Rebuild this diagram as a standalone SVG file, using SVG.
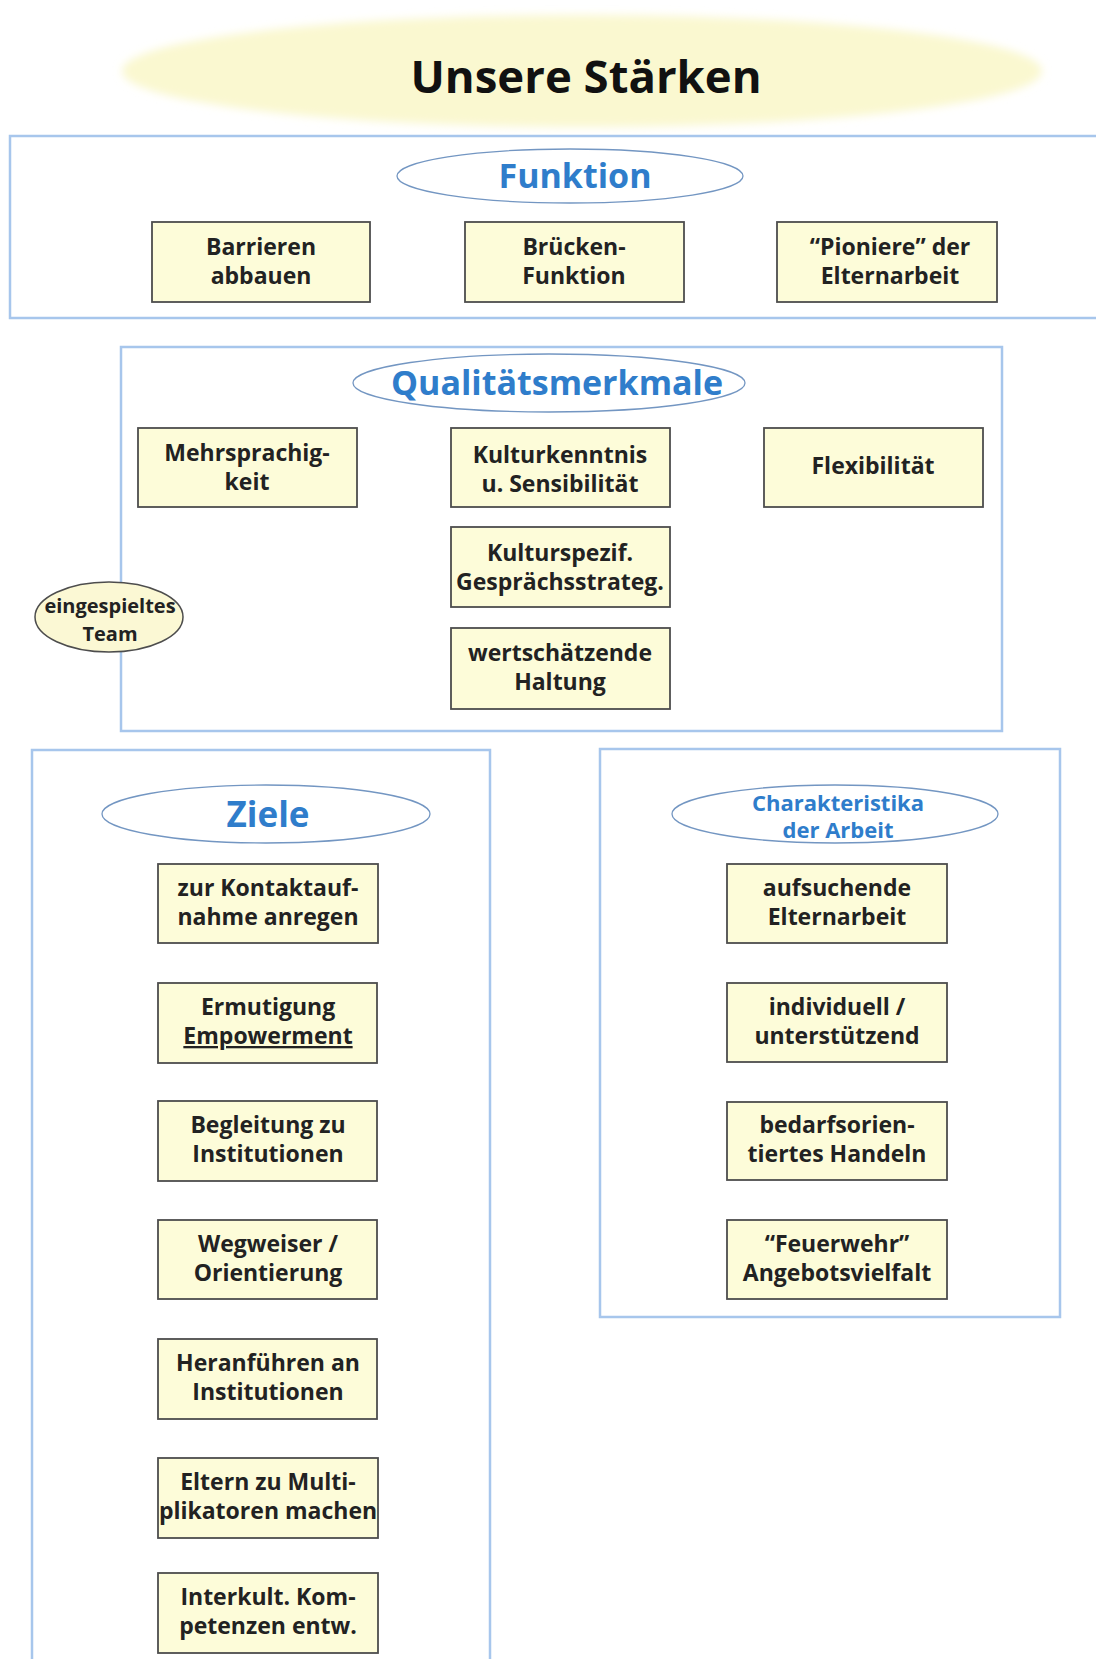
<svg xmlns="http://www.w3.org/2000/svg" width="1096" height="1659" viewBox="0 0 1096 1659">
<defs>
<filter id="soft" x="-5%" y="-20%" width="110%" height="140%"><feGaussianBlur stdDeviation="4"/></filter>
<style>
.sec{fill:none;stroke:#a7c6ec;stroke-width:2.5}
.head{fill:#ffffff;stroke:#7396c2;stroke-width:1.3}
.ht{font-family:"Open Sans","Liberation Sans",sans-serif;font-weight:bold;fill:#2f7dcb;text-anchor:middle}
.box{fill:#fdfcd9;stroke:#4d4d4d;stroke-width:1.8}
.bt{font-family:"Open Sans","Liberation Sans",sans-serif;font-weight:bold;font-size:23px;fill:#222;text-anchor:middle}
</style>
</defs>
<rect width="1096" height="1659" fill="#ffffff"/>

<g id="title">
<ellipse cx="582" cy="71" rx="460" ry="56" fill="#faf8d0" filter="url(#soft)"/>
<text x="586" y="93" font-family="'Open Sans','Liberation Sans',sans-serif" font-weight="bold" font-size="45.5" fill="#111" text-anchor="middle">Unsere Stärken</text>
</g>

<g id="sections">
<rect id="sec-funktion" class="sec" x="10" y="136" width="1100" height="182"/>
<rect id="sec-qualitaet" class="sec" x="121" y="347" width="881" height="384"/>
<rect id="sec-ziele" class="sec" x="32" y="750" width="458" height="940"/>
<rect id="sec-charakteristika" class="sec" x="600" y="749" width="460" height="568"/>
</g>

<g id="connectors"></g>

<g id="h-funktion">
<ellipse class="head" cx="570" cy="176" rx="173" ry="27"/>
<text class="ht" x="575" y="188" font-size="34">Funktion</text>
</g>
<g id="n-barrieren"><rect class="box" x="152" y="222" width="218" height="80"/><text class="bt" x="261" y="255">Barrieren</text><text class="bt" x="261" y="284">abbauen</text></g>
<g id="n-bruecken"><rect class="box" x="465" y="222" width="219" height="80"/><text class="bt" x="574" y="255">Brücken-</text><text class="bt" x="574" y="284">Funktion</text></g>
<g id="n-pioniere"><rect class="box" x="777" y="222" width="220" height="80"/><text class="bt" x="890" y="255">“Pioniere” der</text><text class="bt" x="890" y="284">Elternarbeit</text></g>

<g id="h-qualitaet">
<ellipse class="head" cx="549" cy="383" rx="196" ry="29"/>
<text class="ht" x="557" y="395" font-size="34">Qualitätsmerkmale</text>
</g>
<g id="n-mehrsprachig"><rect class="box" x="138" y="428" width="219" height="79"/><text class="bt" x="247" y="461">Mehrsprachig-</text><text class="bt" x="247" y="490">keit</text></g>
<g id="n-kulturkenntnis"><rect class="box" x="451" y="428" width="219" height="79"/><text class="bt" x="560" y="463">Kulturkenntnis</text><text class="bt" x="560" y="492">u. Sensibilität</text></g>
<g id="n-flexibilitaet"><rect class="box" x="764" y="428" width="219" height="79"/><text class="bt" x="873" y="474">Flexibilität</text></g>
<g id="n-kulturspezif"><rect class="box" x="451" y="527" width="219" height="80"/><text class="bt" x="560" y="561">Kulturspezif.</text><text class="bt" x="560" y="590">Gesprächsstrateg.</text></g>
<g id="n-wertschaetzend"><rect class="box" x="451" y="628" width="219" height="81"/><text class="bt" x="560" y="661">wertschätzende</text><text class="bt" x="560" y="690">Haltung</text></g>
<g id="n-team">
<ellipse cx="109" cy="617" rx="74" ry="35" fill="#fbf8d4" stroke="#4d4d4d" stroke-width="1.5"/>
<text x="110" y="613" font-family="'Open Sans','Liberation Sans',sans-serif" font-weight="bold" font-size="20" fill="#222" text-anchor="middle">eingespieltes</text>
<text x="110" y="641" font-family="'Open Sans','Liberation Sans',sans-serif" font-weight="bold" font-size="20" fill="#222" text-anchor="middle">Team</text>
</g>

<g id="h-ziele">
<ellipse class="head" cx="266" cy="814" rx="164" ry="29"/>
<text class="ht" x="268" y="827" font-size="35">Ziele</text>
</g>
<g id="n-kontakt"><rect class="box" x="158" y="864" width="220" height="79"/><text class="bt" x="268" y="896">zur Kontaktauf-</text><text class="bt" x="268" y="925">nahme anregen</text></g>
<g id="n-ermutigung"><rect class="box" x="158" y="983" width="219" height="80"/><text class="bt" x="268" y="1015">Ermutigung</text><text class="bt" x="268" y="1044" text-decoration="underline">Empowerment</text></g>
<g id="n-begleitung"><rect class="box" x="158" y="1101" width="219" height="80"/><text class="bt" x="268" y="1133">Begleitung zu</text><text class="bt" x="268" y="1162">Institutionen</text></g>
<g id="n-wegweiser"><rect class="box" x="158" y="1220" width="219" height="79"/><text class="bt" x="268" y="1252">Wegweiser /</text><text class="bt" x="268" y="1281">Orientierung</text></g>
<g id="n-heranfuehren"><rect class="box" x="158" y="1339" width="219" height="80"/><text class="bt" x="268" y="1371">Heranführen an</text><text class="bt" x="268" y="1400">Institutionen</text></g>
<g id="n-multiplikatoren"><rect class="box" x="158" y="1458" width="220" height="80"/><text class="bt" x="268" y="1490">Eltern zu Multi-</text><text class="bt" x="268" y="1519">plikatoren machen</text></g>
<g id="n-interkult"><rect class="box" x="158" y="1573" width="220" height="80"/><text class="bt" x="268" y="1605">Interkult. Kom-</text><text class="bt" x="268" y="1634">petenzen entw.</text></g>

<g id="h-charakteristika">
<ellipse class="head" cx="835" cy="814" rx="163" ry="29"/>
<text class="ht" x="838" y="811" font-size="22">Charakteristika</text>
<text class="ht" x="838" y="838" font-size="22">der Arbeit</text>
</g>
<g id="n-aufsuchend"><rect class="box" x="727" y="864" width="220" height="79"/><text class="bt" x="837" y="896">aufsuchende</text><text class="bt" x="837" y="925">Elternarbeit</text></g>
<g id="n-individuell"><rect class="box" x="727" y="983" width="220" height="79"/><text class="bt" x="837" y="1015">individuell /</text><text class="bt" x="837" y="1044">unterstützend</text></g>
<g id="n-bedarf"><rect class="box" x="727" y="1102" width="220" height="78"/><text class="bt" x="837" y="1133">bedarfsorien-</text><text class="bt" x="837" y="1162">tiertes Handeln</text></g>
<g id="n-feuerwehr"><rect class="box" x="727" y="1220" width="220" height="79"/><text class="bt" x="837" y="1252">“Feuerwehr”</text><text class="bt" x="837" y="1281">Angebotsvielfalt</text></g>
</svg>
